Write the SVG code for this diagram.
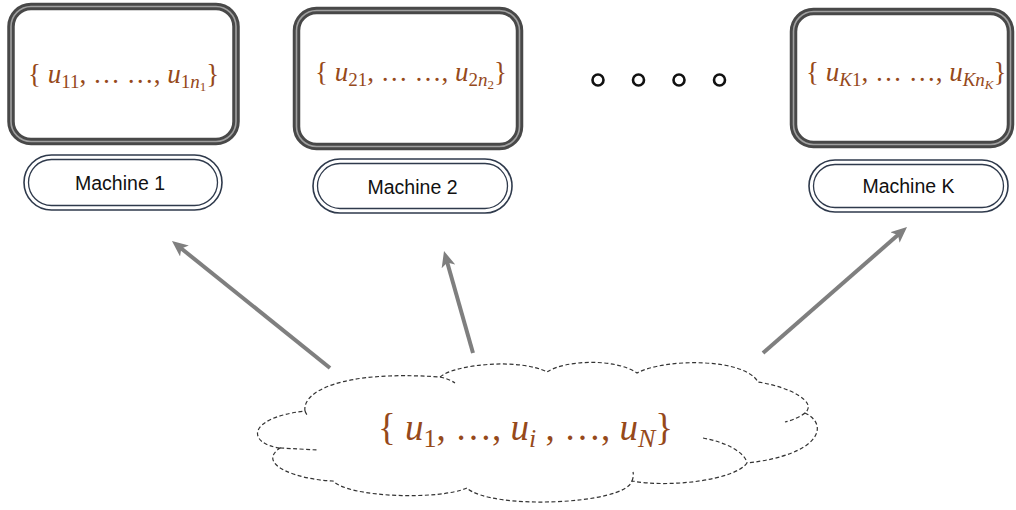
<svg xmlns="http://www.w3.org/2000/svg" width="1016" height="510" viewBox="0 0 1016 510">
<style>
.box-outer{fill:#fff;stroke:#484848;stroke-width:7.5}
.box-hl{fill:none;stroke:#a0a0a0;stroke-width:1.6}
.pill{fill:#fff;stroke:#2f3a4c;stroke-width:1.6}
.pill-in{fill:none;stroke:#2f3a4c;stroke-width:1.3}
.lbl{font-family:"Liberation Sans",Arial,sans-serif;font-size:19.5px;fill:#111;text-anchor:middle}
.math{font-family:"Liberation Serif","Times New Roman",serif;fill:#96491a}
.it{font-style:italic}
.conn{stroke:#7f7f7f;stroke-width:4;fill:none}
.dot{fill:none;stroke:#111;stroke-width:2.6}
.cloud{fill:#fff;stroke:#333;stroke-width:1.2;stroke-dasharray:4 2.5}
.tail{fill:none;stroke:#333;stroke-width:1.2;stroke-dasharray:4 2.5}
</style>
<defs>
<marker id="arr" viewBox="0 0 16 14" refX="8" refY="7" markerWidth="16" markerHeight="14" markerUnits="userSpaceOnUse" orient="auto">
<path d="M0,0 L16,7 L0,14 L4,7 z" fill="#7f7f7f"/>
</marker>
</defs>

<g id="machine1-box">
<rect class="box-outer" x="11" y="6.5" width="225" height="135" rx="20"/>
<rect class="box-hl" x="11" y="6.5" width="225" height="135" rx="20"/>
<text class="math" x="28" y="83" font-size="27">{ <tspan class="it">u</tspan><tspan font-size="19" dy="5">11</tspan><tspan dy="-5">, … …, </tspan><tspan class="it">u</tspan><tspan font-size="19" dy="5">1</tspan><tspan class="it" font-size="19">n</tspan><tspan font-size="13" dy="3">1</tspan><tspan dy="-8">}</tspan></text>
</g>
<g id="machine1-label">
<rect class="pill" x="24" y="155" width="198" height="55" rx="27.5"/>
<rect class="pill-in" x="28.5" y="159.5" width="189" height="46" rx="23"/>
<text class="lbl" x="120" y="190">Machine 1</text>
</g>

<g id="machine2-box">
<rect class="box-outer" x="296.5" y="10.5" width="223" height="136" rx="20"/>
<rect class="box-hl" x="296.5" y="10.5" width="223" height="136" rx="20"/>
<text class="math" x="315" y="81" font-size="27">{ <tspan class="it">u</tspan><tspan font-size="19" dy="5">21</tspan><tspan dy="-5">, … …, </tspan><tspan class="it">u</tspan><tspan font-size="19" dy="5">2</tspan><tspan class="it" font-size="19">n</tspan><tspan font-size="13" dy="3">2</tspan><tspan dy="-8">}</tspan></text>
</g>
<g id="machine2-label">
<rect class="pill" x="313" y="159" width="199" height="54" rx="27"/>
<rect class="pill-in" x="317.5" y="163.5" width="190" height="45" rx="22.5"/>
<text class="lbl" x="412.5" y="193.5">Machine 2</text>
</g>

<g id="dots">
<circle class="dot" cx="598" cy="80" r="5.5"/>
<circle class="dot" cx="638.5" cy="80" r="5.5"/>
<circle class="dot" cx="679" cy="80" r="5.5"/>
<circle class="dot" cx="719.5" cy="80" r="5.5"/>
</g>

<g id="machineK-box">
<rect class="box-outer" x="793.5" y="11.5" width="217" height="133" rx="20"/>
<rect class="box-hl" x="793.5" y="11.5" width="217" height="133" rx="20"/>
<text class="math" x="806" y="81" font-size="27">{ <tspan class="it">u</tspan><tspan class="it" font-size="19" dy="5">K</tspan><tspan font-size="19">1</tspan><tspan dy="-5">, … …, </tspan><tspan class="it">u</tspan><tspan class="it" font-size="19" dy="5">Kn</tspan><tspan class="it" font-size="13" dy="3">K</tspan><tspan dy="-8">}</tspan></text>
</g>
<g id="machineK-label">
<rect class="pill" x="809" y="160" width="199" height="52" rx="26"/>
<rect class="pill-in" x="813.5" y="164.5" width="190" height="43" rx="21.5"/>
<text class="lbl" x="908.5" y="193">Machine K</text>
</g>

<g id="connectors">
<line class="conn" x1="330" y1="368" x2="178.2" y2="246" marker-end="url(#arr)"/>
<line class="conn" x1="473" y1="353" x2="446.2" y2="258.7" marker-end="url(#arr)"/>
<line class="conn" x1="763" y1="353" x2="901" y2="232.3" marker-end="url(#arr)"/>
</g>

<g id="cloud">
<path class="cloud" d="M280,448 C248,444 245,418 305,411 C302,392 340,370 440,377 C455,364 520,358 547,372 C565,360 615,358 637,373 C665,358 745,358 758,382 C790,387 818,402 805,413 C830,425 820,455 747,463 C735,480 670,488 632,481 C625,505 490,510 467,488 C440,500 350,498 333,481 C300,480 255,465 280,448 Z"/>
<path class="tail" d="M440,377 Q449,379 455,383"/>
<path class="tail" d="M805,413 Q797,419 785,422"/>
<path class="tail" d="M703,438 C725,442 745,452 747,463"/>
<path class="tail" d="M280,448 Q300,449 317,450"/>
<path class="tail" d="M632,481 Q634,476 633,472"/>
<path class="tail" d="M305,411 Q306,414 308,416"/>
<text class="math" x="378" y="440" font-size="37">{ <tspan class="it">u</tspan><tspan font-size="26" dy="7">1</tspan><tspan dy="-7">, …, </tspan><tspan class="it">u</tspan><tspan class="it" font-size="26" dy="7">i</tspan><tspan dy="-7"> , …, </tspan><tspan class="it">u</tspan><tspan class="it" font-size="26" dy="7">N</tspan><tspan dy="-7">}</tspan></text>
</g>
</svg>
